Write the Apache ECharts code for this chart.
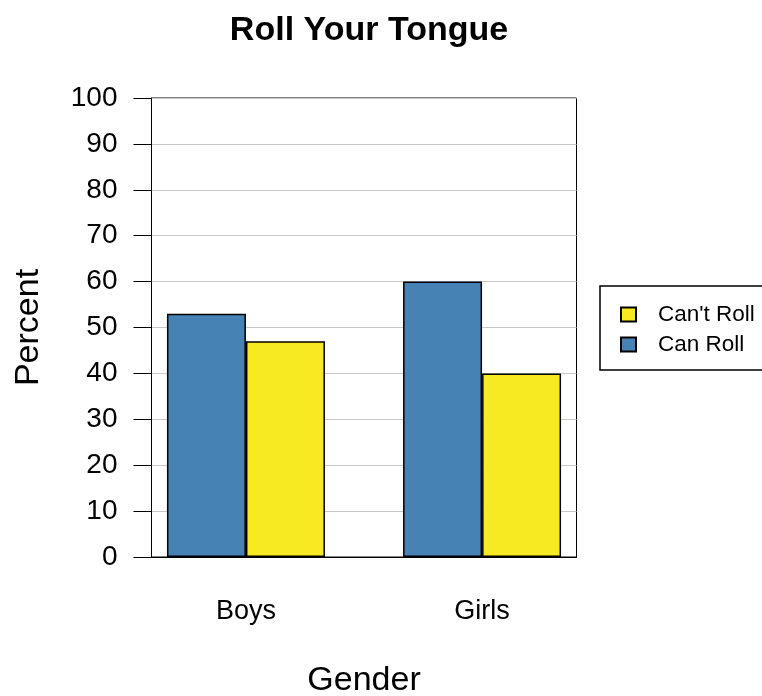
<!DOCTYPE html>
<html>
<head>
<meta charset="utf-8">
<script src="https://cdn.jsdelivr.net/npm/echarts@6/dist/echarts.min.js"></script>
<style>html,body{margin:0;padding:0;background:#fff}#chart{width:762px;height:696px}</style>
</head>
<body>
<div id="chart"></div>
<script>
const categories = ['Boys', 'Girls'];
const categoryPositions = [1, 2];
const canRoll = [53, 60];
const cantRoll = [47, 40];
const yTicks = [0, 10, 20, 30, 40, 50, 60, 70, 80, 90, 100];

const FONT = 'Liberation Sans, Arial, Helvetica, sans-serif';
const chart = echarts.init(document.getElementById('chart'), null, {renderer: 'canvas'});

function pairs(vals) { return vals.map((v, i) => [categoryPositions[i], v]); }

chart.setOption({
  backgroundColor: '#ffffff',
  animation: false,
  textStyle: {fontFamily: FONT, color: '#000'},
  title: {
    text: 'Roll Your Tongue',
    left: 364, top: 9, textAlign: 'center',
    textStyle: {fontFamily: FONT, fontSize: 34, fontWeight: 'bold', color: '#000'}
  },
  grid: {
    left: 151.5, right: 185.5, top: 98, bottom: 139,
    containLabel: false, outerBoundsMode: 'none',
    show: true, borderColor: '#000', borderWidth: 1, backgroundColor: 'transparent'
  },
  legend: {
    orient: 'vertical', left: 600, top: 286,
    data: ["Can't Roll", 'Can Roll'],
    icon: 'rect', itemWidth: 15, itemHeight: 14, itemGap: 7,
    padding: [17, 30, 14, 20],
    borderColor: '#000', borderWidth: 1.5, borderRadius: 0,
    textStyle: {fontFamily: FONT, fontSize: 22.5, color: '#000', padding: [0, 0, 0, 17]}
  },
  xAxis: {
    type: 'value', min: 0.6, max: 2.4, interval: 0.2,
    name: 'Gender', nameLocation: 'middle', nameGap: 107,
    nameTextStyle: {fontFamily: FONT, fontSize: 34, color: '#000'},
    axisLine: {show: true, lineStyle: {color: '#000', width: 1}},
    axisTick: {show: false},
    splitLine: {show: false},
    axisLabel: {
      margin: 41, fontFamily: FONT, fontSize: 27, color: '#000',
      showMinLabel: true, showMaxLabel: true,
      formatter: function (v) {
        for (let i = 0; i < categoryPositions.length; i++) {
          if (Math.abs(v - categoryPositions[i]) < 1e-6) return categories[i];
        }
        return '';
      }
    }
  },
  yAxis: {
    type: 'value', min: yTicks[0], max: yTicks[yTicks.length - 1], interval: 10,
    name: 'Percent', nameLocation: 'middle', nameGap: 106, nameRotate: 90,
    nameTextStyle: {fontFamily: FONT, fontSize: 34, color: '#000'},
    axisLine: {show: true, lineStyle: {color: '#000', width: 1}},
    axisTick: {show: true, length: 18, lineStyle: {color: '#000', width: 1}},
    splitLine: {show: true, lineStyle: {color: '#c8c8c8', width: 1}},
    axisLabel: {margin: 34, fontFamily: FONT, fontSize: 28, color: '#000'}
  },
  series: [
    {
      name: 'Can Roll', type: 'bar', data: pairs(canRoll),
      barWidth: 79, barGap: '0%',
      itemStyle: {color: '#4682b4', borderColor: '#000', borderWidth: 1.5}
    },
    {
      name: "Can't Roll", type: 'bar', data: pairs(cantRoll),
      barWidth: 79, barGap: '0%',
      itemStyle: {color: '#f7ea23', borderColor: '#000', borderWidth: 1.5}
    }
  ]
});
</script>
</body>
</html>
